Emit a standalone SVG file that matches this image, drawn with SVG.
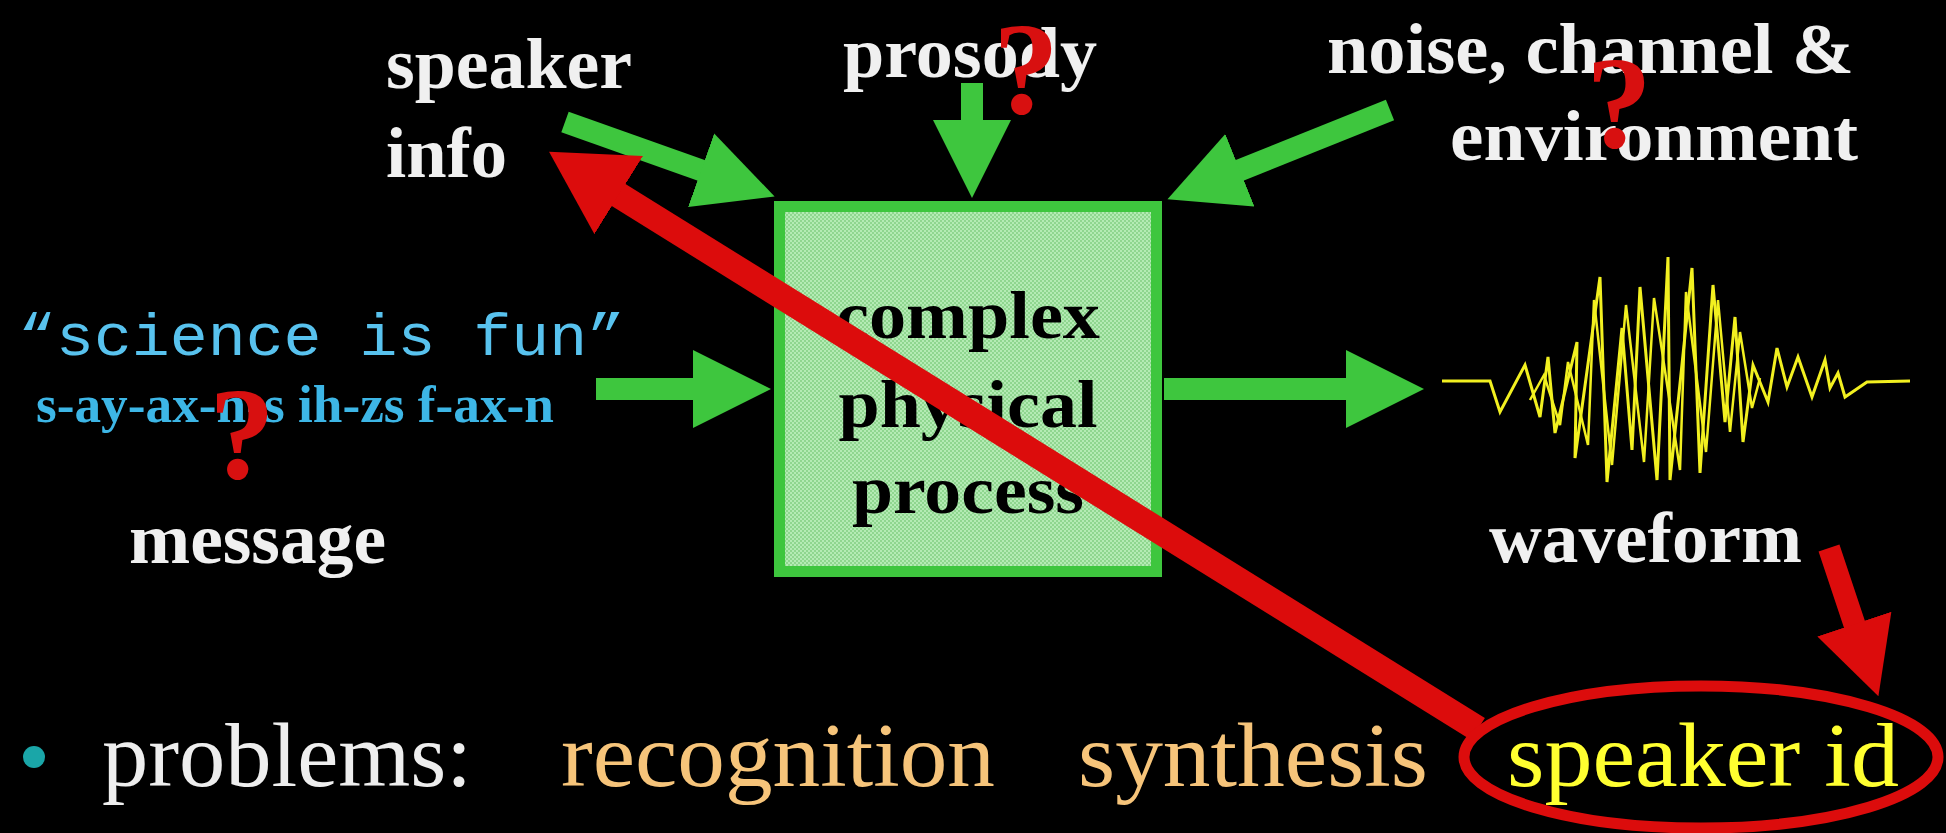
<svg xmlns="http://www.w3.org/2000/svg" width="1946" height="833" viewBox="0 0 1946 833">
<style>
.lbl{font-family:"Liberation Serif","Times New Roman",serif;font-weight:bold;fill:#f0f0f0;font-size:71px}
.box{font-family:"Liberation Serif","Times New Roman",serif;font-weight:bold;fill:#000;font-size:68px}
.q{font-family:"Liberation Serif","Times New Roman",serif;font-weight:bold;fill:#d81010;font-size:132px}
.big{font-family:"Liberation Serif","Times New Roman",serif;font-size:90px}
.g{stroke:#3ec63e;stroke-width:22;fill:none}
.r{stroke:#dc0c0c;fill:none}
.w{fill:none;stroke:#f2f020;stroke-linejoin:miter}
</style>
<defs>
<pattern id="dots" width="4" height="4" patternUnits="userSpaceOnUse"><rect width="4" height="4" fill="#b4ebb4"/><rect width="2" height="2" fill="#8fd68f"/><rect x="2" y="2" width="2" height="2" fill="#8fd68f"/></pattern>
<marker id="gh" markerUnits="userSpaceOnUse" viewBox="0 0 80 80" markerWidth="80" markerHeight="80" refX="2" refY="40" orient="auto"><path d="M0,1 L78,40 L0,79 z" fill="#3ec63e"/></marker>
<marker id="rb" markerUnits="userSpaceOnUse" viewBox="0 0 82 92" markerWidth="82" markerHeight="92" refX="2" refY="46" orient="auto"><path d="M0,0 L82,46 L0,92 z" fill="#dc0c0c"/></marker>
<marker id="rs" markerUnits="userSpaceOnUse" viewBox="0 0 76 78" markerWidth="76" markerHeight="78" refX="2" refY="39" orient="auto"><path d="M0,0 L76,39 L0,78 z" fill="#dc0c0c"/></marker>
</defs>
<rect width="1946" height="833" fill="#000"/>

<g id="connectors-green">
<line class="g" x1="565" y1="122" x2="703" y2="171" marker-end="url(#gh)"/>
<line class="g" x1="972" y1="83" x2="972" y2="122" marker-end="url(#gh)"/>
<line class="g" x1="1390" y1="110" x2="1238" y2="171" marker-end="url(#gh)"/>
<line class="g" x1="596" y1="389" x2="695" y2="389" marker-end="url(#gh)"/>
<line class="g" x1="1164" y1="389" x2="1348" y2="389" marker-end="url(#gh)"/>
</g>

<g id="process">
<rect x="779.5" y="206.5" width="377" height="365" fill="url(#dots)" stroke="#3ec63e" stroke-width="11"/>
<text class="box" x="968" y="338" text-anchor="middle" textLength="264" lengthAdjust="spacingAndGlyphs">complex</text>
<text class="box" x="968" y="427" text-anchor="middle" textLength="259" lengthAdjust="spacingAndGlyphs">physical</text>
<text class="box" x="968" y="513" text-anchor="middle" textLength="232" lengthAdjust="spacingAndGlyphs">process</text>
</g>

<g id="speaker-info">
<text class="lbl" x="386" y="88" textLength="246" lengthAdjust="spacingAndGlyphs">speaker</text>
<text class="lbl" x="386" y="177" textLength="121" lengthAdjust="spacingAndGlyphs">info</text>
</g>

<g id="prosody">
<text class="lbl" x="843" y="77" textLength="254" lengthAdjust="spacingAndGlyphs">prosody</text>
<text class="q" x="1026" y="113" text-anchor="middle">?</text>
</g>

<g id="noise">
<text class="lbl" x="1327" y="73" textLength="527" lengthAdjust="spacingAndGlyphs">noise, channel &amp;</text>
<text class="lbl" x="1450" y="160" textLength="408" lengthAdjust="spacingAndGlyphs">environment</text>
<text class="q" x="1619" y="147" text-anchor="middle">?</text>
</g>

<g id="message">
<text x="18" y="355" font-family="'Liberation Mono','Courier New',monospace" font-size="60" fill="#58c2ee" textLength="607" lengthAdjust="spacingAndGlyphs">“science is fun”</text>
<text x="36" y="422" font-family="'Liberation Serif','Times New Roman',serif" font-weight="bold" font-size="52" fill="#3db6e6" textLength="518" lengthAdjust="spacingAndGlyphs">s-ay-ax-n-s ih-zs f-ax-n</text>
<text class="q" x="242" y="478" text-anchor="middle" font-size="138">?</text>
<text class="lbl" x="129" y="563" textLength="257" lengthAdjust="spacingAndGlyphs">message</text>
</g>

<g id="waveform">
<polyline class="w" stroke-width="3" points="1442,381 1490,381 1500,412 1525,365 1540,417 1548,357 1555,433 1577,342 1575,458 1600,277 1607,482 1622,328 1632,450 1640,287 1657,480 1668,257 1670,480 1692,268 1700,473 1713,285 1725,422 1735,317 1743,442 1753,365 1768,402 1777,348 1787,387 1798,357 1812,397 1825,360 1830,388 1838,373 1845,397 1867,382 1910,381"/>
<polyline class="w" stroke-width="2.5" points="1530,400 1544,375 1560,425 1568,362 1588,445 1594,300 1612,465 1626,305 1644,462 1654,298 1680,470 1686,292 1706,452 1718,300 1730,432 1740,332 1752,408 1760,378"/>
<text class="lbl" x="1489" y="562" textLength="313" lengthAdjust="spacingAndGlyphs">waveform</text>
</g>

<g id="problems">
<circle cx="34" cy="757" r="11" fill="#1aa6a8"/>
<text class="big" x="102" y="786" fill="#eeeeee" textLength="370" lengthAdjust="spacingAndGlyphs">problems:</text>
<text class="big" x="561" y="786" fill="#f6c47a" textLength="434" lengthAdjust="spacingAndGlyphs">recognition</text>
<text class="big" x="1078" y="786" fill="#f6c47a" textLength="350" lengthAdjust="spacingAndGlyphs">synthesis</text>
<text class="big" x="1507" y="786" fill="#ffff30" textLength="392" lengthAdjust="spacingAndGlyphs">speaker id</text>
</g>

<g id="connectors-red">
<line class="r" stroke-width="26" x1="1478" y1="729" x2="617" y2="194" marker-end="url(#rb)"/>
<line class="r" stroke-width="22" x1="1829" y1="548" x2="1855" y2="626" marker-end="url(#rs)"/>
<ellipse class="r" cx="1701" cy="757" rx="237" ry="71" stroke-width="11"/>
</g>
</svg>
